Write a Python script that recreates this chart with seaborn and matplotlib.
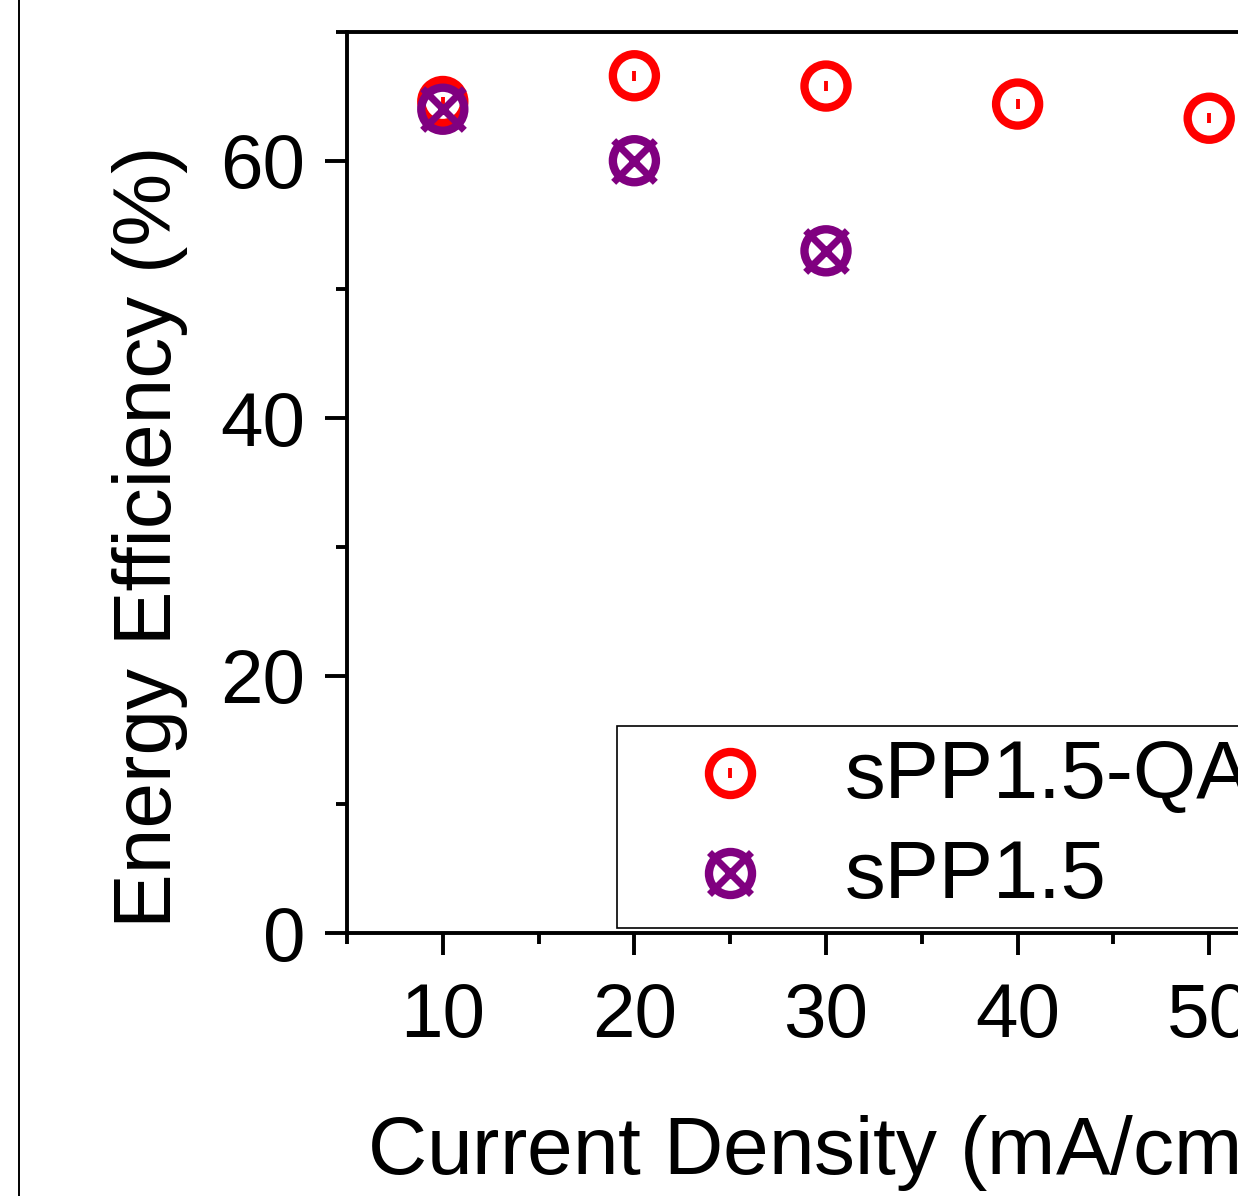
import matplotlib
matplotlib.use("Agg")
import matplotlib.pyplot as plt
from matplotlib.lines import Line2D
from matplotlib.legend_handler import HandlerTuple
import numpy as np
import pandas as pd
import seaborn as sns

# Energy efficiency vs. current density for the two membranes
current_density = [10, 20, 30, 40, 50]
ee_qa = [64.6, 66.6, 65.8, 64.4, 63.3]          # sPP1.5-QA
current_density_ref = [10, 20, 30]
ee_ref = [64.0, 60.0, 53.0]                      # sPP1.5

series_labels = ["sPP1.5-QA", "sPP1.5"]
x_major = [10, 20, 30, 40, 50]
x_minor = [5, 15, 25, 35, 45, 55]
y_major = [0, 20, 40, 60]
y_minor = [10, 30, 50, 70]

RED = "#ff0000"
PURPLE = "#800080"

sns.set_theme(style="ticks")
plt.rcParams["font.family"] = ["Liberation Sans", "DejaVu Sans"]
plt.rcParams["mathtext.fontset"] = "custom"
plt.rcParams["mathtext.rm"] = "Liberation Sans"
plt.rcParams["mathtext.it"] = "Liberation Sans:italic"
for key in ["text.color", "axes.labelcolor", "xtick.color", "ytick.color",
            "axes.edgecolor"]:
    plt.rcParams[key] = "black"

W, H = 1238, 1196
fig = plt.figure(figsize=(W / 100, H / 100), dpi=100)
ax = fig.add_axes([347 / W, (H - 933) / H, 958 / W, 901 / H])

df_qa = pd.DataFrame({"x": current_density, "y": ee_qa})
df_ref = pd.DataFrame({"x": current_density_ref, "y": ee_ref})

ring_s = 31 ** 2
ring_lw = 6.0
dot_size = 6.5
dot_lw = 2.8
cross_size = 30

# sPP1.5-QA: open circle with centre dot
sns.scatterplot(data=df_qa, x="x", y="y", marker="o", s=ring_s, color=RED,
                facecolor="none", edgecolor=RED, linewidth=ring_lw,
                legend=False, ax=ax, zorder=3)
sns.scatterplot(data=df_qa, x="x", y="y", marker="|", s=dot_size ** 2, color=RED,
                linewidth=dot_lw, legend=False, ax=ax, zorder=3)
# sPP1.5: open circle with a cross
sns.scatterplot(data=df_ref, x="x", y="y", marker="o", s=ring_s, color=PURPLE,
                facecolor="none", edgecolor=PURPLE, linewidth=ring_lw,
                legend=False, ax=ax, zorder=4)
sns.scatterplot(data=df_ref, x="x", y="y", marker="x", s=cross_size ** 2,
                color=PURPLE, linewidth=ring_lw * 0.85, legend=False, ax=ax,
                zorder=4)

ax.set_xlim(5, 55)
ax.set_ylim(0, 70)
ax.set_xticks(x_major)
ax.set_xticks(x_minor, minor=True)
ax.set_yticks(y_major)
ax.set_yticks(y_minor, minor=True)

spine_lw = 2.8
for side in ["left", "bottom", "top", "right"]:
    ax.spines[side].set_linewidth(spine_lw)
    ax.spines[side].set_color("black")
ax.tick_params(which="both", direction="out", width=spine_lw, color="black",
               top=False, right=False)
ax.tick_params(which="major", length=16, labelsize=55)
ax.tick_params(axis="x", which="major", pad=19)
ax.tick_params(axis="y", which="major", pad=14)
ax.tick_params(which="minor", length=8)

ax.set_xlabel("Current Density (mA/cm$^2$)", fontsize=59, ha="left")
ax.xaxis.set_label_coords((367 - 347) / 958, -0.188)
ax.set_ylabel("Energy Efficiency (%)", fontsize=59)
ax.yaxis.set_label_coords(-0.166, (933 - 537) / 901)

def ring_handle(col):
    return Line2D([], [], ls="none", marker="o", ms=31, mfc="none",
                  mec=col, mew=ring_lw)

h_qa = (ring_handle(RED),
        Line2D([], [], ls="none", marker="|", ms=dot_size, mec=RED, mew=dot_lw))
h_ref = (ring_handle(PURPLE),
         Line2D([], [], ls="none", marker="x", ms=cross_size, mec=PURPLE,
                mew=ring_lw * 0.85))

leg = ax.legend([h_qa, h_ref], series_labels,
                handler_map={tuple: HandlerTuple(ndivide=1)},
                loc="lower left", bbox_to_anchor=((617 - 347) / 958, 5 / 901),
                borderaxespad=0, fontsize=58.5, frameon=True, fancybox=False,
                borderpad=0.16, handlelength=2.45, handletextpad=0.19,
                handleheight=0.4, labelspacing=0.3)
leg.get_frame().set_edgecolor("black")
leg.get_frame().set_linewidth(1.2)
leg.get_frame().set_alpha(1)

# thin border line along the left edge
fig.add_artist(Line2D([18.5 / W, 18.5 / W], [0, 1], transform=fig.transFigure,
                      color="black", lw=1.4))

fig.savefig("out.png", dpi=100, facecolor="white")
